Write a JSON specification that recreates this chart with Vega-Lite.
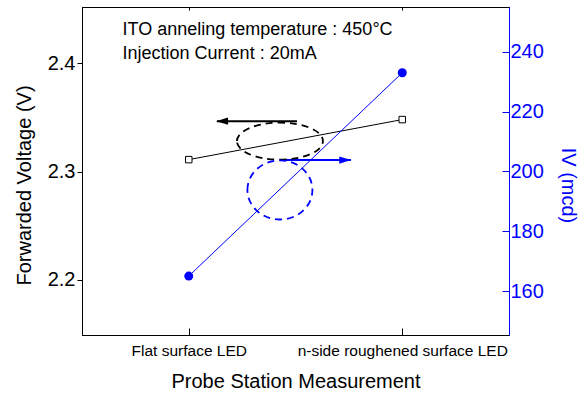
{
  "$schema": "https://vega.github.io/schema/vega-lite/v6.json",
  "width": 427,
  "height": 328,
  "autosize": {"type": "none"},
  "padding": {"left": 82, "top": 7, "right": 75, "bottom": 59},
  "background": "white",
  "config": {
    "font": "Liberation Sans",
    "view": {"stroke": "black", "strokeWidth": 1},
    "axis": {"grid": false, "titleFontWeight": "normal", "labelFont": "Liberation Sans", "titleFont": "Liberation Sans"}
  },
  "datasets": {
    "meas": [
      {"sample": "Flat surface LED", "V": 2.311, "IV": 165},
      {"sample": "n-side roughened surface LED", "V": 2.348, "IV": 233}
    ],
    "notes": [
      {"label": "ITO anneling temperature : 450°C", "pos": 0.19, "V": 2.4258},
      {"label": "Injection Current : 20mA", "pos": 0.19, "V": 2.4037}
    ],
    "arrows": [
      {"arrow": "voltage", "from": 1.007, "to": 0.632, "head": 0.656, "V": 2.3465},
      {"arrow": "IV", "from": 0.951, "to": 1.26, "head": 1.233, "V": 2.3106}
    ],
    "rings": [
      {"ring": "voltage", "pos": 0.927, "V": 2.3281},
      {"ring": "IV", "pos": 0.927, "V": 2.283}
    ]
  },
  "layer": [
    {
      "data": {"name": "meas"},
      "encoding": {
        "x": {"field": "sample", "type": "nominal", "sort": null,
          "scale": {"type": "point", "padding": 0.5},
          "axis": {"orient": "bottom", "title": "Probe Station Measurement", "titleFontSize": 20, "titleColor": "black",
            "titleY": 52, "titleBaseline": "alphabetic", "labelFontSize": 15.5, "labelColor": "black", "labelAngle": 0,
            "labelBaseline": "alphabetic", "labelPadding": 27, "labelLimit": 0, "labelOverlap": false, "tickSize": -7, "tickColor": "black", "domainColor": "black", "domainWidth": 1}},
        "y": {"field": "V", "type": "quantitative",
          "scale": {"domain": [2.149, 2.452], "zero": false, "nice": false},
          "axis": {"orient": "left", "values": [2.2, 2.3, 2.4], "format": ".1f", "title": "Forwarded Voltage (V)",
            "titleFontSize": 20, "titleColor": "black", "titleX": -52, "titleY": 178, "titleAngle": -90,
            "titleAlign": "center", "titleBaseline": "alphabetic", "labelFontSize": 20, "labelColor": "black",
            "tickColor": "black", "tickSize": 5, "labelPadding": 2, "domainColor": "black", "domainWidth": 1}}
      },
      "layer": [
        {"mark": {"type": "line", "color": "black", "strokeWidth": 1}},
        {"mark": {"type": "square", "size": 42, "fill": "white", "stroke": "black", "strokeWidth": 1, "opacity": 1}}
      ]
    },
    {
      "data": {"name": "meas"},
      "encoding": {
        "x": {"field": "sample", "type": "nominal", "sort": null,
          "scale": {"type": "point", "padding": 0.5},
          "axis": {"orient": "top", "labels": false, "title": null, "tickSize": -3, "tickColor": "black", "domainColor": "black", "domainWidth": 1}},
        "y": {"field": "IV", "type": "quantitative",
          "scale": {"domain": [145.3, 255], "zero": false, "nice": false},
          "axis": {"orient": "right", "values": [160, 180, 200, 220, 240], "title": "IV (mcd)", "titleColor": "#0000ff",
            "titleFontSize": 20, "titleX": 52, "titleY": 178, "titleAngle": 90, "titleAlign": "center", "titleBaseline": "alphabetic",
            "labelColor": "#0000ff", "labelFontSize": 20, "tickColor": "#0000ff", "domainColor": "#0000ff", "tickSize": -7,
            "labelPadding": 8, "zindex": 1, "domainWidth": 1}}
      },
      "layer": [
        {"mark": {"type": "line", "color": "#0000ff", "strokeWidth": 1}},
        {"mark": {"type": "circle", "size": 81, "color": "#0000ff", "opacity": 1}}
      ]
    },
    {
      "layer": [
        {
          "data": {"name": "notes"},
          "mark": {"type": "text", "align": "left", "baseline": "alphabetic", "fontSize": 18, "color": "black"},
          "encoding": {
            "x": {"field": "pos", "type": "quantitative", "scale": {"domain": [0, 2], "nice": false, "zero": false}, "axis": null},
            "y": {"field": "V", "type": "quantitative", "scale": {"domain": [2.149, 2.452], "zero": false, "nice": false}, "axis": null},
            "text": {"field": "label"}
          }
        },
        {
          "data": {"name": "arrows"},
          "transform": [{"filter": "datum.arrow == 'voltage'"}],
          "layer": [
            {"mark": {"type": "rule", "color": "black", "strokeWidth": 2},
             "encoding": {
               "x": {"field": "from", "type": "quantitative", "scale": {"domain": [0, 2], "nice": false, "zero": false}, "axis": null},
               "x2": {"field": "to"},
               "y": {"field": "V", "type": "quantitative", "scale": {"domain": [2.149, 2.452], "zero": false, "nice": false}, "axis": null}
             }},
            {"mark": {"type": "point", "shape": "M -1,0 L 1,-0.6 L 1,0.6 Z", "size": 144, "filled": true, "color": "black", "opacity": 1},
             "encoding": {
               "x": {"field": "head", "type": "quantitative", "scale": {"domain": [0, 2], "nice": false, "zero": false}, "axis": null},
               "y": {"field": "V", "type": "quantitative", "scale": {"domain": [2.149, 2.452], "zero": false, "nice": false}, "axis": null}
             }}
          ]
        },
        {
          "data": {"name": "arrows"},
          "transform": [{"filter": "datum.arrow == 'IV'"}],
          "layer": [
            {"mark": {"type": "rule", "color": "#0000ff", "strokeWidth": 2},
             "encoding": {
               "x": {"field": "from", "type": "quantitative", "scale": {"domain": [0, 2], "nice": false, "zero": false}, "axis": null},
               "x2": {"field": "to"},
               "y": {"field": "V", "type": "quantitative", "scale": {"domain": [2.149, 2.452], "zero": false, "nice": false}, "axis": null}
             }},
            {"mark": {"type": "point", "shape": "M 1,0 L -1,-0.6 L -1,0.6 Z", "size": 144, "filled": true, "color": "#0000ff", "opacity": 1},
             "encoding": {
               "x": {"field": "head", "type": "quantitative", "scale": {"domain": [0, 2], "nice": false, "zero": false}, "axis": null},
               "y": {"field": "V", "type": "quantitative", "scale": {"domain": [2.149, 2.452], "zero": false, "nice": false}, "axis": null}
             }}
          ]
        },
        {
          "data": {"name": "rings"},
          "transform": [{"filter": "datum.ring == 'voltage'"}],
          "mark": {"type": "point", "shape": "M -1,0 C -1,-0.2375 -0.5523,-0.43 0,-0.43 C 0.5523,-0.43 1,-0.2375 1,0 C 1,0.2375 0.5523,0.43 0,0.43 C -0.5523,0.43 -1,0.2375 -1,0 Z",
            "size": 7396, "filled": false, "stroke": "black", "strokeWidth": 1.8, "strokeDash": [7, 5], "opacity": 1},
          "encoding": {
            "x": {"field": "pos", "type": "quantitative", "scale": {"domain": [0, 2], "nice": false, "zero": false}, "axis": null},
            "y": {"field": "V", "type": "quantitative", "scale": {"domain": [2.149, 2.452], "zero": false, "nice": false}, "axis": null}
          }
        },
        {
          "data": {"name": "rings"},
          "transform": [{"filter": "datum.ring == 'IV'"}],
          "mark": {"type": "point", "shape": "M -1,0 C -1,-0.5026 -0.5523,-0.91 0,-0.91 C 0.5523,-0.91 1,-0.5026 1,0 C 1,0.5026 0.5523,0.91 0,0.91 C -0.5523,0.91 -1,0.5026 -1,0 Z",
            "size": 4225, "filled": false, "stroke": "#0000ff", "strokeWidth": 1.8, "strokeDash": [7, 5], "opacity": 1},
          "encoding": {
            "x": {"field": "pos", "type": "quantitative", "scale": {"domain": [0, 2], "nice": false, "zero": false}, "axis": null},
            "y": {"field": "V", "type": "quantitative", "scale": {"domain": [2.149, 2.452], "zero": false, "nice": false}, "axis": null}
          }
        }
      ]
    }
  ],
  "resolve": {"scale": {"x": "independent", "y": "independent"}, "axis": {"x": "independent", "y": "independent"}}
}
